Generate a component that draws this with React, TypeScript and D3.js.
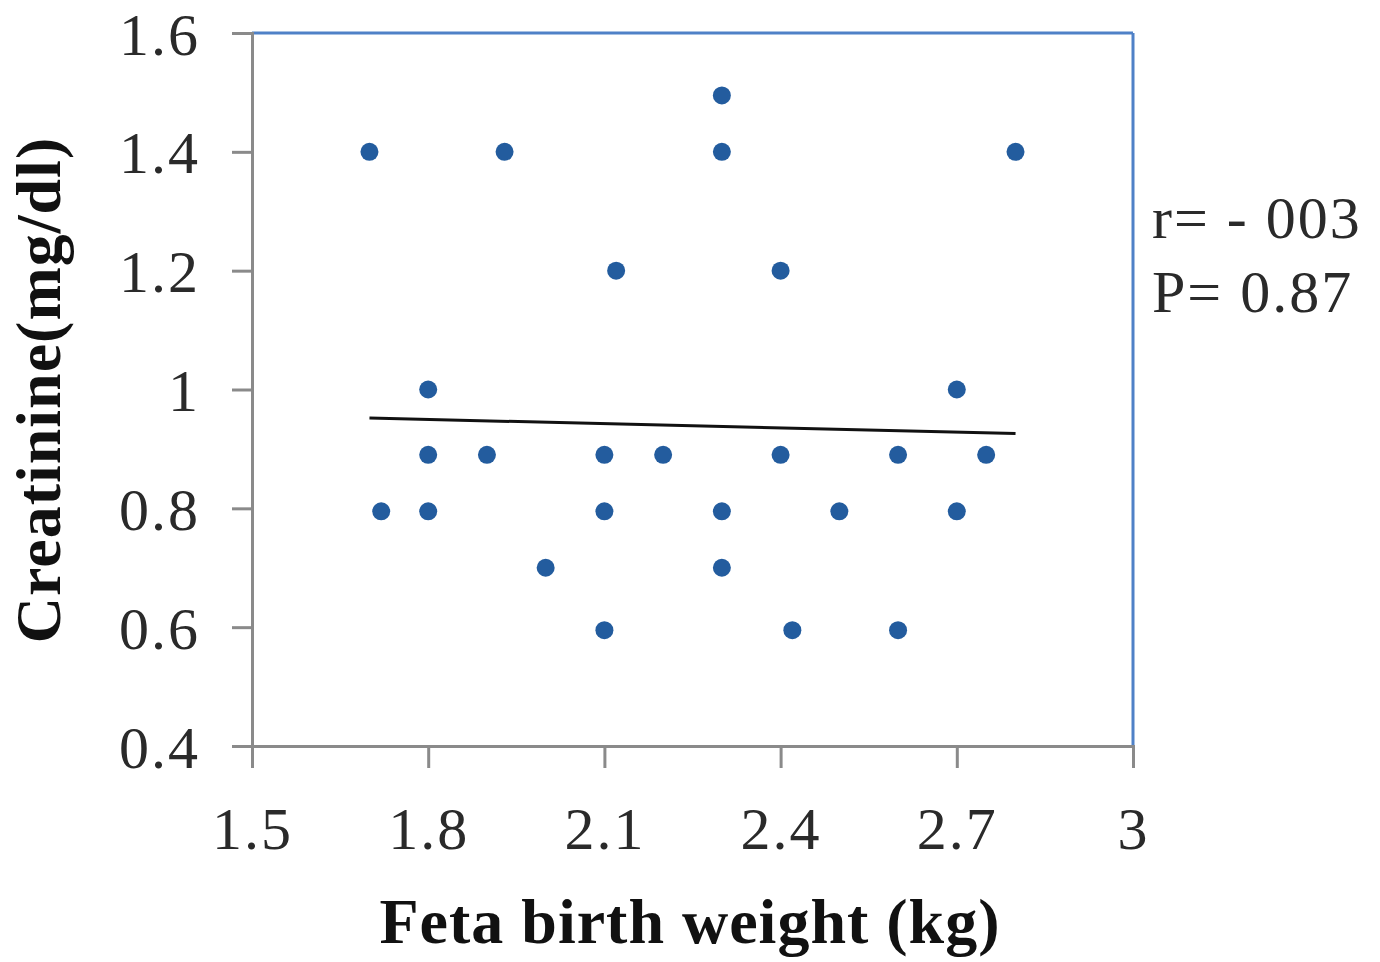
import React, { useEffect, useRef } from 'react';
import * as d3 from 'd3';

// birth weight (kg) vs creatinine (mg/dl)
const weights = [1.7, 1.72, 1.8, 1.8, 1.8, 1.9, 1.93, 2.0, 2.1, 2.1, 2.1, 2.12, 2.2, 2.3, 2.3, 2.3, 2.3, 2.4, 2.4, 2.42, 2.5, 2.6, 2.6, 2.7, 2.7, 2.75, 2.8];
const creatinine = [1.4, 0.795, 1.0, 0.89, 0.795, 0.89, 1.4, 0.7, 0.89, 0.795, 0.595, 1.2, 0.89, 1.495, 1.4, 0.795, 0.7, 1.2, 0.89, 0.595, 0.795, 0.89, 0.595, 1.0, 0.795, 0.89, 1.4];
const trendX = [1.7, 2.8];
const trendY = [0.952, 0.926];
const xTicks = [1.5, 1.8, 2.1, 2.4, 2.7, 3];
const yTicks = [0.4, 0.6, 0.8, 1, 1.2, 1.4, 1.6];
const statLines = ['r= - 003', 'P= 0.87'];

const App = () => {
  const svgRef = useRef<SVGSVGElement | null>(null);
  const width = 1380;
  const height = 962;
  const margin = { top: 33, right: 247, bottom: 216, left: 252 };

  useEffect(() => {
    const svg = d3.select(svgRef.current);
    svg.selectAll('*').remove();

    const x = d3.scaleLinear().domain([1.5, 3]).range([margin.left, width - margin.right]);
    const y = d3.scaleLinear().domain([0.4, 1.6]).range([height - margin.bottom, margin.top]);

    const axisGray = '#8a8a8a';
    const borderBlue = '#4f81c7';
    const serif = '"Liberation Serif", "Times New Roman", serif';

    // top and right frame in blue
    svg.append('line')
      .attr('x1', x(1.5)).attr('x2', x(3)).attr('y1', y(1.6)).attr('y2', y(1.6))
      .style('stroke', borderBlue).style('stroke-width', 3);
    svg.append('line')
      .attr('x1', x(3)).attr('x2', x(3)).attr('y1', y(1.6)).attr('y2', y(0.4))
      .style('stroke', borderBlue).style('stroke-width', 3);

    // y axis
    const yAxis = svg.append('g').attr('transform', `translate(${x(1.5)},0)`)
      .call(d3.axisLeft(y).tickValues(yTicks).tickSize(20).tickPadding(32).tickFormat((d) => d3.format('')(+d)));
    yAxis.select('.domain').style('stroke', axisGray).style('stroke-width', 3);
    yAxis.selectAll('.tick line').style('stroke', axisGray).style('stroke-width', 3);
    yAxis.selectAll('.tick text')
      .style('font-family', serif).style('font-size', '60px').style('fill', '#2a2a2a')
      .style('letter-spacing', '2px')
      .attr('dy', '0.35em');

    // x axis
    const xAxis = svg.append('g').attr('transform', `translate(0,${y(0.4)})`)
      .call(d3.axisBottom(x).tickValues(xTicks).tickSize(22).tickPadding(38).tickFormat((d) => d3.format('')(+d)));
    xAxis.select('.domain').style('stroke', axisGray).style('stroke-width', 3);
    xAxis.selectAll('.tick line').style('stroke', axisGray).style('stroke-width', 3);
    xAxis.selectAll('.tick text')
      .style('font-family', serif).style('font-size', '60px').style('fill', '#2a2a2a')
      .style('letter-spacing', '2px');

    // points
    svg.append('g')
      .selectAll('circle')
      .data(weights)
      .join('circle')
      .attr('cx', (d) => x(d))
      .attr('cy', (d, i) => y(creatinine[i]))
      .attr('r', 9)
      .style('fill', '#235c9e');

    // linear trend
    const trend = d3.line<number>().x((d) => x(d)).y((d, i) => y(trendY[i]));
    svg.append('path')
      .attr('d', trend(trendX))
      .style('fill', 'none')
      .style('stroke', '#111')
      .style('stroke-width', 3);

    // stats
    svg.append('g')
      .selectAll('text')
      .data(statLines)
      .join('text')
      .attr('x', 1152)
      .attr('y', (d, i) => 238 + i * 74)
      .style('font-family', serif)
      .style('font-size', '60px')
      .style('letter-spacing', '2px')
      .style('fill', '#2a2a2a')
      .text((d) => d);

    // axis titles
    svg.append('text')
      .attr('x', 690)
      .attr('y', 943)
      .attr('text-anchor', 'middle')
      .style('font-family', serif)
      .style('font-weight', 'bold')
      .style('font-size', '64px')
      .style('letter-spacing', '1px')
      .style('fill', '#111')
      .text('Feta birth weight (kg)');

    svg.append('text')
      .attr('transform', `translate(60,${390}) rotate(-90)`)
      .attr('text-anchor', 'middle')
      .style('font-family', serif)
      .style('font-weight', 'bold')
      .style('font-size', '64px')
      .style('letter-spacing', '1px')
      .style('fill', '#111')
      .text('Creatinine(mg/dl)');
  }, []);

  return (
    <svg
      ref={svgRef}
      width={width}
      height={height}
      style={{ position: 'absolute', left: 0, top: 0, background: '#fff' }}
    />
  );
};

export default App;
